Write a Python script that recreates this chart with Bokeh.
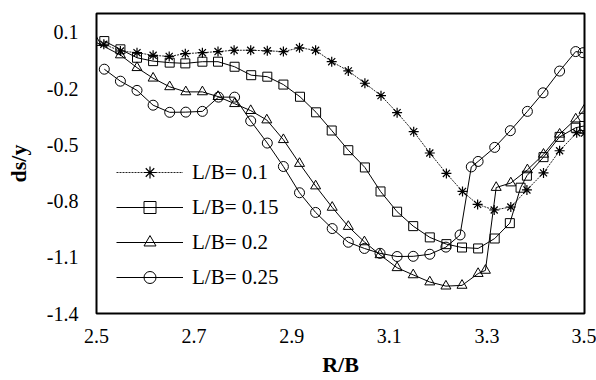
from bokeh.plotting import figure
from bokeh.models import FixedTicker, PrintfTickFormatter, Legend, LegendItem
from bokeh.embed import file_html
from bokeh.resources import INLINE

# ---- data ----
rb_01 = [2.515, 2.549, 2.583, 2.616, 2.649, 2.682, 2.717, 2.749, 2.782, 2.816, 2.850,
         2.883, 2.916, 2.949, 2.982, 3.016, 3.050, 3.083, 3.116, 3.150, 3.183, 3.217,
         3.250, 3.281, 3.315, 3.349, 3.382, 3.416, 3.449, 3.484, 3.500]
ds_01 = [0.036, 0.000, -0.009, -0.023, -0.029, -0.014, -0.009, -0.003, 0.004, 0.004, 0.001,
         -0.003, 0.017, 0.004, -0.057, -0.106, -0.172, -0.238, -0.329, -0.430, -0.544, -0.653,
         -0.749, -0.818, -0.848, -0.832, -0.741, -0.650, -0.532, -0.436, -0.438]

rb_015 = [2.516, 2.549, 2.583, 2.616, 2.650, 2.682, 2.717, 2.749, 2.783, 2.817, 2.850,
          2.883, 2.917, 2.950, 2.982, 3.016, 3.050, 3.082, 3.116, 3.149, 3.183, 3.217,
          3.249, 3.282, 3.316, 3.347, 3.369, 3.382, 3.416, 3.449, 3.482, 3.499]
ds_015 = [0.053, 0.009, -0.036, -0.054, -0.062, -0.066, -0.057, -0.057, -0.084, -0.129, -0.137,
          -0.179, -0.244, -0.327, -0.424, -0.529, -0.621, -0.749, -0.857, -0.934, -0.994, -1.030,
          -1.048, -1.053, -1.000, -0.918, -0.729, -0.665, -0.566, -0.458, -0.409, -0.400]

rb_02 = [2.500, 2.549, 2.583, 2.616, 2.650, 2.683, 2.717, 2.749, 2.783, 2.816, 2.849,
         2.883, 2.916, 2.949, 2.983, 3.016, 3.049, 3.081, 3.116, 3.149, 3.183, 3.216,
         3.249, 3.282, 3.297, 3.319, 3.349, 3.383, 3.416, 3.449, 3.482, 3.499]
ds_02 = [0.045, -0.021, -0.089, -0.145, -0.191, -0.218, -0.218, -0.243, -0.281, -0.318, -0.368,
         -0.473, -0.600, -0.720, -0.834, -0.936, -1.018, -1.087, -1.156, -1.194, -1.232, -1.254,
         -1.250, -1.187, -1.170, -0.728, -0.704, -0.634, -0.551, -0.444, -0.363, -0.317]

rb_025 = [2.516, 2.549, 2.583, 2.616, 2.650, 2.683, 2.717, 2.750, 2.783, 2.816, 2.850,
          2.883, 2.916, 2.949, 2.983, 3.016, 3.049, 3.081, 3.116, 3.149, 3.183, 3.216,
          3.245, 3.268, 3.282, 3.316, 3.348, 3.383, 3.415, 3.449, 3.482, 3.497]
ds_025 = [-0.097, -0.161, -0.210, -0.289, -0.327, -0.326, -0.322, -0.246, -0.246, -0.373, -0.491,
          -0.616, -0.756, -0.861, -0.947, -1.020, -1.053, -1.079, -1.096, -1.095, -1.084, -1.046,
          -0.981, -0.618, -0.589, -0.514, -0.425, -0.322, -0.223, -0.107, -0.003, -0.009]

series_labels = ["L/B= 0.1", "L/B= 0.15", "L/B= 0.2", "L/B= 0.25"]
x_ticks = [2.5, 2.7, 2.9, 3.1, 3.3, 3.5]
y_ticks = [-1.4, -1.1, -0.8, -0.5, -0.2, 0.1]

FONT = "Liberation Serif"

p = figure(width=596, height=380, output_backend="svg", toolbar_location=None,
           x_range=(2.5, 3.5), y_range=(-1.4, 0.2),
           min_border_left=96, min_border_right=12, min_border_top=13, min_border_bottom=67)

p.background_fill_color = "white"
p.border_fill_color = "white"
p.outline_line_color = "black"
p.outline_line_width = 2
p.xgrid.visible = False
p.ygrid.visible = False

for ax in (p.xaxis[0], p.yaxis[0]):
    ax.axis_line_color = None
    ax.major_tick_line_color = None
    ax.minor_tick_line_color = None
    ax.major_tick_out = 0
    ax.major_tick_in = 0
    ax.minor_tick_out = 0
    ax.minor_tick_in = 0
    ax.major_label_text_font = FONT
    ax.major_label_text_font_size = "20px"
    ax.major_label_text_color = "black"
    ax.axis_label_text_font = FONT
    ax.axis_label_text_font_size = "22px"
    ax.axis_label_text_font_style = "bold"
    ax.axis_label_text_color = "black"
    ax.formatter = PrintfTickFormatter(format="%.1f")

p.xaxis.ticker = FixedTicker(ticks=x_ticks)
p.yaxis.ticker = FixedTicker(ticks=y_ticks)
p.xaxis.axis_label = "R/B"
p.yaxis.axis_label = "ds/y"
p.xaxis.major_label_standoff = 15
p.xaxis.axis_label_standoff = 6
p.yaxis.major_label_standoff = 18
p.yaxis.axis_label_standoff = 13

items = []
l1 = p.line(rb_01, ds_01, line_color="#222222", line_width=1, line_dash="2 1")
m1 = p.scatter(rb_01, ds_01, marker="asterisk", size=10, line_color="black", line_width=1.2)
items.append(LegendItem(label=series_labels[0], renderers=[l1, m1]))

l2 = p.line(rb_015, ds_015, line_color="black", line_width=1)
m2 = p.scatter(rb_015, ds_015, marker="square", size=9, line_color="black",
               fill_color=None, line_width=1)
items.append(LegendItem(label=series_labels[1], renderers=[l2, m2]))

l3 = p.line(rb_02, ds_02, line_color="black", line_width=1)
m3 = p.scatter(rb_02, ds_02, marker="triangle", size=10, line_color="black",
               fill_color=None, line_width=1)
items.append(LegendItem(label=series_labels[2], renderers=[l3, m3]))

l4 = p.line(rb_025, ds_025, line_color="black", line_width=1)
m4 = p.scatter(rb_025, ds_025, marker="circle", size=10, line_color="black",
               fill_color=None, line_width=1)
items.append(LegendItem(label=series_labels[3], renderers=[l4, m4]))

legend = Legend(items=items, location=(20, 21))
legend.label_text_font = FONT
legend.label_text_font_size = "21px"
legend.label_text_color = "black"
legend.glyph_width = 67
legend.glyph_height = 30
legend.label_height = 30
legend.spacing = 5
legend.padding = 0
legend.margin = 0
legend.label_standoff = 9
legend.border_line_color = None
legend.background_fill_alpha = 0
p.add_layout(legend)

open("out.html", "w").write(file_html(p, INLINE))
